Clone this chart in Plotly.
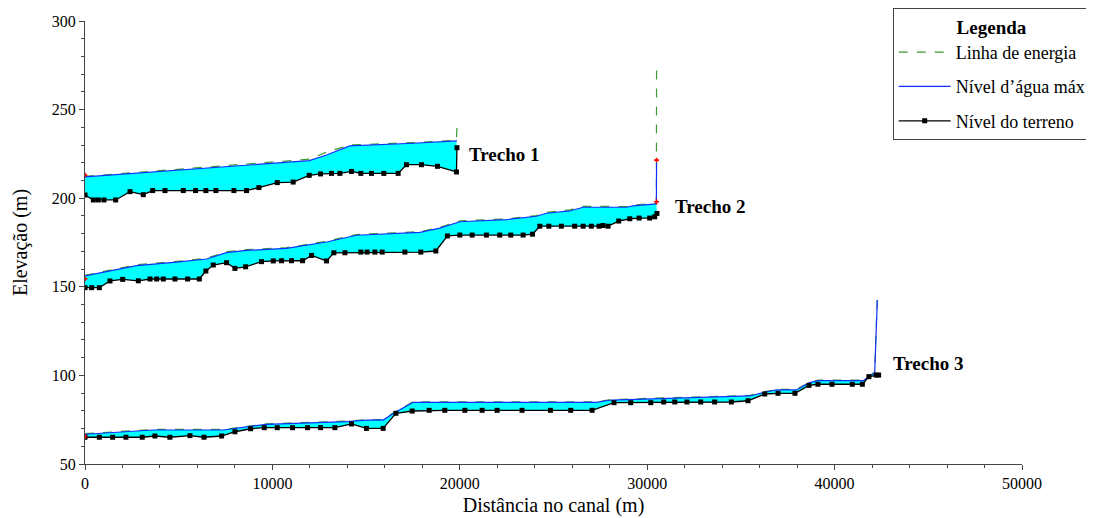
import plotly.graph_objects as go

# ---- Trecho 1 ----
t1_ter_x = [0, 443, 710, 1013, 1636, 2400, 3110, 3610, 4270, 5245, 5900, 6450, 6985, 7945, 8620, 9280,
            10260, 11110, 11965, 12570, 13155, 13600, 14220, 14720, 15290, 15945, 16710, 17155, 17955,
            18810, 19820, 19850]
t1_ter_y = [201.8, 199, 199, 199, 199, 203.7, 202, 204.3, 204.3, 204.3, 204.3, 204.3, 204.3, 204.3, 204.3,
            206, 208.8, 209.1, 212.9, 213.7, 214, 214, 215.1, 214, 214, 214, 214, 218.9, 218.9, 218,
            214.8, 228.5]
t1_wat_x = [0, 2400, 5070, 8620, 11970, 12890, 14130, 17510, 19820, 19850]
t1_wat_y = [212, 213.9, 215.9, 218.7, 221.2, 224.4, 229.5, 231, 232.3, 232.3]
t1_ene_y = [212.3, 214.2, 216.3, 219.1, 222.0, 226.0, 230.0, 231.4, 232.6, 240.5]

# ---- Trecho 2 ----
t2_ter_x = [0, 355, 765, 1333, 2010, 2845, 3470, 3825, 4180, 4800, 5475, 6100, 6450, 6845, 7555, 8000,
            8570, 9420, 10045, 10490, 11020, 11610, 12090, 12890, 13280, 13870, 14720, 15055, 15470,
            15860, 17070, 17920, 18720, 19340, 20000, 20660, 21420, 22130, 22720, 23380, 23880, 24270,
            24750, 25420, 26130, 26580, 27020, 27430, 27640, 27910, 28480, 29070, 29570, 30130, 30400,
            30520]
t2_ter_y = [149.5, 149.5, 149.5, 153.3, 154.2, 153.4, 154.4, 154.4, 154.4, 154.4, 154.4, 154.4, 158.9,
            162.3, 163.6, 160.4, 161.3, 164.2, 164.6, 164.7, 164.7, 164.7, 167.7, 164.6, 169.2, 169.2,
            169.6, 169.6, 169.6, 169.6, 169.6, 169.6, 170.2, 178.7, 179.2, 179.2, 179.2, 179.2, 179.2,
            179.2, 179.7, 184.2, 184.2, 184.2, 184.2, 184.2, 184.2, 184.2, 184.6, 184.2, 187.1, 188.4,
            188.8, 188.8, 189.5, 191.4]
t2_wat_x = [0, 1510, 2755, 4890, 6490, 7555, 8620, 10750, 12170, 12890, 14480, 17870, 18930, 20000,
            22490, 24090, 24620, 25870, 26580, 28890, 29250, 30490, 30500]
t2_wat_y = [156.2, 159.5, 162, 163.9, 165.7, 169.3, 170.5, 171.7, 174.2, 175.3, 179.1, 180.7, 183.1,
            186.7, 187.9, 189.8, 191.5, 192.8, 194.9, 194.9, 195.7, 196.8, 220]
t2_ene_y = [156.5, 159.8, 162.4, 164.3, 166.1, 169.8, 171.0, 172.1, 174.6, 175.7, 179.5, 181.1, 183.6,
            187.2, 188.3, 190.2, 192.0, 193.4, 195.4, 195.3, 196.1, 197.2, 276]

# ---- Trecho 3 ----
t3_ter_x = [0, 765, 1475, 2185, 3055, 3730, 4530, 5600, 6350, 7290, 8000, 8835, 9565, 10260, 11075,
            11875, 12570, 13335, 14220, 15020, 15910, 16590, 17460, 18365, 19200, 20270, 21190, 21990,
            23320, 24835, 25920, 27060, 28230, 29120, 30190, 30880, 31470, 32120, 32855, 33600, 34490,
            35380, 36270, 36980, 37885, 38635, 39110, 39860, 40945, 41480, 41830, 42220, 42350]
t3_ter_y = [65.1, 65.1, 65.1, 65.1, 65.1, 65.8, 65.1, 66.0, 65.1, 65.8, 68.2, 69.9, 70.5, 70.5, 70.5,
            70.5, 70.5, 70.5, 72.6, 70.1, 70.1, 78.6, 79.9, 80.3, 80.3, 80.3, 80.3, 80.3, 80.3, 80.3,
            80.3, 80.3, 84.6, 84.6, 84.6, 85, 85, 85, 85, 85, 85, 85.7, 89.5, 89.9, 89.9, 94.4, 95, 95,
            95, 95, 99.3, 100.2, 100.2]
t3_wat_x = [0, 3640, 7380, 8800, 9690, 13950, 15020, 15910, 16530, 17510, 27290, 28090, 29600, 34040,
            35470, 36270, 36890, 37960, 38670, 39110, 41520, 42140, 42280]
t3_wat_y = [66.8, 69.2, 69.2, 71.4, 72.4, 73.9, 74.8, 74.8, 79.0, 84.8, 84.8, 86.1, 86.5, 88.0, 88.4,
            90.5, 91.8, 91.8, 95.9, 97.0, 97.0, 101.5, 142.5]
t3_ene_y = [67.1, 69.5, 69.5, 71.7, 72.7, 74.2, 75.1, 75.1, 79.3, 85.1, 85.1, 86.4, 86.8, 88.3, 88.7,
            90.8, 92.1, 92.1, 96.2, 97.3, 97.3, 101.8, 145]

# critical-depth marks (red)
crit_x = [0, 0, 0, 30500, 30500]
crit_y = [213, 154.5, 65.5, 221.5, 198]

trechos = [
    (t1_ter_x, t1_ter_y, t1_wat_x, t1_wat_y, t1_ene_y),
    (t2_ter_x, t2_ter_y, t2_wat_x, t2_wat_y, t2_ene_y),
    (t3_ter_x, t3_ter_y, t3_wat_x, t3_wat_y, t3_ene_y),
]
labels = [("Trecho 1", 22400, 224.4), ("Trecho 2", 33400, 195.6), ("Trecho 3", 45000, 107)]

SERIF = "Liberation Serif"
fig = go.Figure()

for tx, ty, wx, wy, ey in trechos:
    n = len(wx) - 1
    fig.add_trace(go.Scatter(
        x=list(wx[:n]) + list(tx[::-1]), y=list(wy[:n]) + list(ty[::-1]),
        fill="toself", fillcolor="#00FFFF", mode="none", showlegend=False, hoverinfo="skip"))

for i, (tx, ty, wx, wy, ey) in enumerate(trechos):
    fig.add_trace(go.Scatter(
        x=wx, y=ey, mode="lines", name="Linha de energia", legendgroup="e", showlegend=(i == 0),
        line=dict(color="#3C9A32", width=1.2, dash="dash")))
for i, (tx, ty, wx, wy, ey) in enumerate(trechos):
    fig.add_trace(go.Scatter(
        x=wx, y=wy, mode="lines", name="Nível d’água máx", legendgroup="w", showlegend=(i == 0),
        line=dict(color="#1030FF", width=1.2)))
for i, (tx, ty, wx, wy, ey) in enumerate(trechos):
    fig.add_trace(go.Scatter(
        x=tx, y=ty, mode="lines+markers", name="Nível do terreno", legendgroup="t", showlegend=(i == 0),
        line=dict(color="black", width=1.3), marker=dict(symbol="square", size=5, color="black")))

fig.add_trace(go.Scatter(x=crit_x, y=crit_y, mode="markers", showlegend=False,
                         marker=dict(symbol="cross", size=4, color="red")))

for txt, lx, ly in labels:
    fig.add_annotation(x=lx, y=ly, text="<b>%s</b>" % txt, showarrow=False,
                       font=dict(family=SERIF, size=19, color="black"))

fig.update_layout(
    width=1086, height=510,
    margin=dict(l=77, r=72, t=13, b=54, autoexpand=False),
    paper_bgcolor="white", plot_bgcolor="white",
    font=dict(family=SERIF, size=16, color="black"),
    legend=dict(
        title=dict(text="<b>Legenda</b>", side="top center", font=dict(family=SERIF, size=19)),
        x=0.862, y=1.029, xanchor="left", yanchor="top",
        bordercolor="#444", borderwidth=1, bgcolor="white",
        font=dict(family=SERIF, size=18), itemwidth=52, tracegroupgap=8),
    xaxis=dict(range=[0, 50000], dtick=10000, tickformat="d", showgrid=False, zeroline=False,
               showline=True, linecolor="#444", linewidth=1, ticks="outside", ticklen=5, tickcolor="#444",
               minor=dict(dtick=2000, ticks="outside", ticklen=3, tickcolor="#444"),
               title=dict(text="Distância no canal (m)", font=dict(size=20), standoff=6)),
    yaxis=dict(range=[50, 300], dtick=50, showgrid=False, zeroline=False, showline=True,
               linecolor="#444", linewidth=1, ticks="outside", ticklen=5, tickcolor="#444",
               minor=dict(dtick=10, ticks="outside", ticklen=3, tickcolor="#444"),
               title=dict(text="Elevação (m)", font=dict(size=20), standoff=18)),
)

fig.write_html("out.html")
